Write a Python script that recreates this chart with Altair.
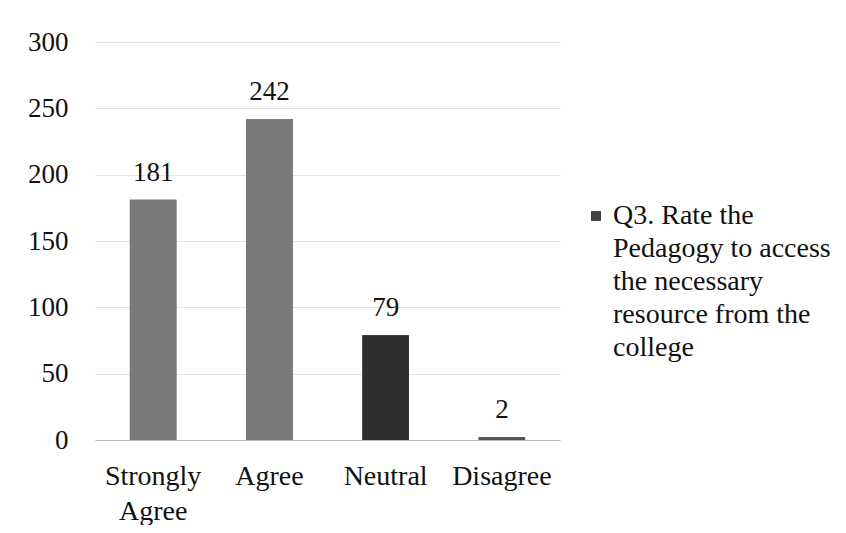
import altair as alt
import pandas as pd

categories = ["Strongly Agree", "Agree", "Neutral", "Disagree"]
values = [181, 242, 79, 2]
bar_colors = ["#7a7a7a", "#7a7a7a", "#2e2e2e", "#555555"]
series_name = "Q3. Rate the Pedagogy to access the necessary resource from the college"
y_ticks = [0, 50, 100, 150, 200, 250, 300]

df = pd.DataFrame({"category": categories, "value": values, "series": [series_name] * len(categories)})

font = "Liberation Serif"

x_enc = alt.X(
    "category:N",
    sort=categories,
    scale=alt.Scale(paddingInner=0.6, paddingOuter=0.3),
    axis=alt.Axis(
        title=None, labelAngle=0, ticks=False, domain=True, domainColor="#bdbdbd",
        labelFont=font, labelFontSize=28, labelColor="#111", labelPadding=22,
        labelExpr="split(datum.label, ' ')", labelLineHeight=35, labelBaseline="top",
    ),
)
y_enc = alt.Y(
    "value:Q",
    scale=alt.Scale(domain=[0, 300], nice=False),
    axis=alt.Axis(
        title=None, values=y_ticks, ticks=False, domain=False, grid=True,
        gridColor="#e4e4e4", labelFont=font, labelFontSize=27, labelColor="#111",
        labelPadding=27,
    ),
)

legend_bars = alt.Chart(df).mark_bar().encode(
    x=x_enc,
    y=y_enc,
    color=alt.Color(
        "series:N",
        scale=alt.Scale(range=["#444444"]),
        legend=alt.Legend(
            title=None, orient="none", legendX=487, legendY=160,
            symbolType="square", symbolSize=100, symbolStrokeWidth=0,
            labelFont=font, labelFontSize=28, labelColor="#111", labelOffset=3,
            labelExpr="['Q3. Rate the', 'Pedagogy to access', 'the necessary', 'resource from the', 'college']",
            labelLimit=400,
        ),
    ),
)

bars = alt.Chart(df).mark_bar().encode(
    x=x_enc,
    y=y_enc,
    color=alt.Color("category:N", scale=alt.Scale(domain=categories, range=bar_colors), legend=None),
)

labels = alt.Chart(df).mark_text(
    font=font, fontSize=27, color="#111", baseline="bottom", dy=-13
).encode(x=x_enc, y=y_enc, text=alt.Text("value:Q"))

chart = (
    alt.layer(legend_bars, bars, labels)
    .resolve_scale(color="independent")
    .properties(
        width=465, height=398,
        autosize=alt.AutoSizeParams(type="none"),
        padding={"left": 87, "top": 34, "right": 278, "bottom": 85},
        background="white",
    )
    .configure(style={"guide-label": {"lineHeight": 33}})
    .configure_view(stroke=None)
)

chart.save("out.html", embed_options={"renderer": "svg", "actions": False})
